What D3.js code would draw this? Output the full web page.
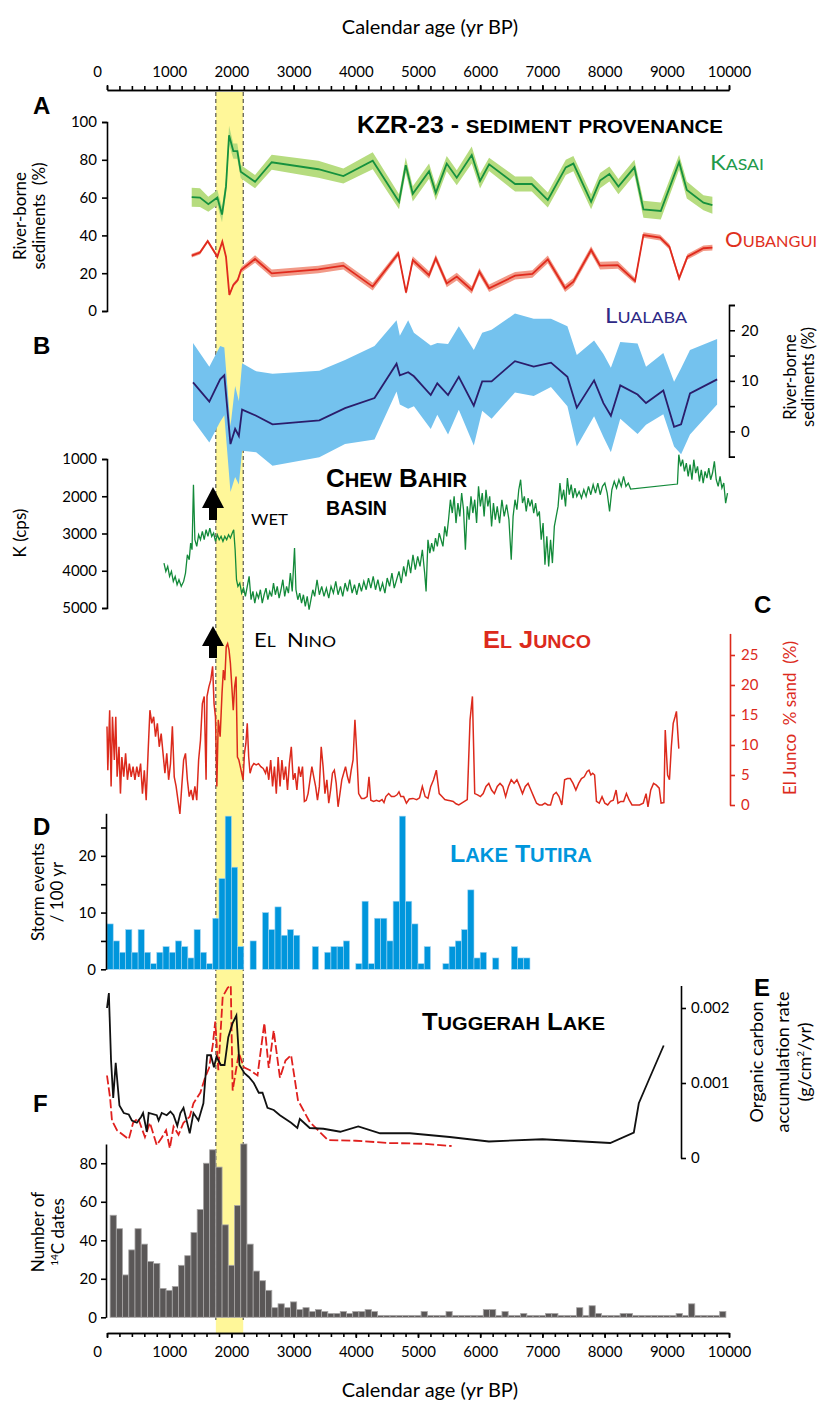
<!DOCTYPE html>
<html>
<head>
<meta charset="utf-8">
<script src="https://cdn.jsdelivr.net/npm/d3@7"></script>
<style>
  body { margin: 0; background: #fff; }
  svg text { font-family: Lato, "Open Sans", sans-serif; }
  .bold { font-family: "Liberation Sans", Arial, sans-serif; font-weight: bold; }
  .pre { white-space: pre; }
</style>
</head>
<body>
<div id="chart"></div>
<script>
// ---- data (ages in cal yr BP) ----
const eventBand = [1750, 2190];

// KZR-23: [age, %, half-width of uncertainty]
const kasai = [[1362,60.2,5],[1495,60,5],[1629,56.5,4],[1774,60,4],[1849,51,4],[1913,65.8,4],[1962,93,5],[2031,84.6,4],[2095,84.6,4],[2150,73.7,3.5],[2380,68.4,3.5],[2648,78.7,4],[3398,75,4.5],[3800,71.4,4],[4272,79.5,4.5],[4695,57.8,4],[4803,77.2,4],[4916,62,4],[5178,74,4],[5286,62.5,4],[5462,78,4],[5623,70.5,4],[5864,82.5,4.5],[5998,68.8,4],[6143,77.6,3.5],[6561,67.2,4],[6829,67.2,4],[7087,58.7,4],[7376,76,4],[7498,78,4],[7783,57.8,4],[7927,69,4],[8077,72.5,4],[8222,65.8,4],[8479,76,4],[8624,53.8,4.5],[8903,52.9,4.5],[9198,78.7,4],[9322,64,4.5],[9589,57.3,4],[9733,56,4.5]];

const oubangui = [[1362,29.3,1],[1495,30.9,1],[1619,37,1],[1774,28.7,1],[1854,36.7,0.5],[1913,28.7,0.5],[1967,8.5,0.5],[2031,13.8,1],[2102,16.4,1],[2155,21.7,1.5],[2380,27.5,2],[2648,19.9,2],[3398,22,2],[3800,24,2],[4272,12.9,2],[4684,30.5,1.5],[4808,9.7,1],[4916,27,2],[5178,19,2],[5286,27.9,2],[5462,14.6,2],[5623,18.2,2],[5864,11.1,2],[5987,20.8,2],[6143,12,2],[6561,18.7,2],[6839,19.6,2],[7087,27.3,2],[7365,12,2],[7498,15.5,2],[7783,32.3,2],[7927,24,2],[8212,24.3,2],[8490,15.9,1.5],[8624,40.2,1.5],[8892,38.8,1.5],[9042,34,1.5],[9198,17.3,1.5],[9332,28.7,1.5],[9589,33.2,1.5],[9733,33.5,1.5]];

// Lualaba: [age, mean, low, high]
const lualaba = [[1383,9.7,2.2,17.5],[1645,5.9,-2.2,12.8],[1819,10.3,1.9,16.9],[1886,11.1,3.2,16.6],[1985,-2.5,-12,1],[2060,0.5,-9,9],[2120,-0.9,-10.5,6],[2172,4.3,-3.8,13.5],[2398,3.1,-4.1,11.9],[2661,1.4,-6.8,11.4],[3414,2.2,-5.1,12],[3827,4.6,-2.5,14.1],[4301,6.6,-1.6,16.9],[4655,13.4,7.9,22],[4708,11.1,5.3,18.9],[4842,11.7,4.5,22],[4934,10.9,5,19.5],[5205,7.2,0.5,17],[5310,9.5,3.3,17.5],[5483,7.2,-0.6,17.3],[5656,10.8,4.3,20.8],[5897,5.1,-2.8,16.1],[6032,9.9,4.1,19.5],[6183,9.9,2.5,20.1],[6559,13.9,7.7,23.3],[6860,12.8,7,22.3],[7138,13.6,8.8,22.3],[7402,10.8,5,20.8],[7553,4.7,-3,15.1],[7831,10.1,3,18],[7981,5.6,-1.1,15.3],[8101,3.1,-4.1,12.6],[8252,9.1,2.5,17.7],[8530,7.3,-0.5,17.4],[8666,5.6,1.3,12.8],[8944,8.1,3.4,15.5],[9117,0.9,-3,9.8],[9230,1.4,-4.5,12.5],[9373,7.5,-0.6,16.1],[9809,10.3,5.3,18.3]];

// Chew Bahir: [age, K cps]
const chewBahir = [[916,3794],[946,4017],[976,3883],[1006,4152],[1036,4017],[1066,4286],[1096,4152],[1127,4375],[1157,4241],[1194,4420],[1232,4286],[1262,4062],[1292,3570],[1322,3704],[1345,3257],[1367,3436],[1390,1690],[1413,3167],[1443,3346],[1473,3033],[1503,3167],[1533,2943],[1563,3167],[1593,2898],[1623,3078],[1653,2854],[1683,3078],[1714,2988],[1744,3212],[1774,3033],[1804,3167],[1834,3078],[1864,3212],[1894,3078],[1924,3167],[1954,3033],[1984,3122],[2014,2988],[2037,2898],[2060,3436],[2082,4241],[2105,4420],[2135,4330],[2165,4599],[2195,4465],[2225,4689],[2255,4420],[2285,4152],[2316,4778],[2346,4554],[2376,4867],[2406,4599],[2436,4733],[2466,4510],[2496,4867],[2526,4644],[2556,4465],[2586,4778],[2616,4554],[2647,4689],[2677,4330],[2707,4644],[2737,4420],[2767,4733],[2797,4510],[2827,4241],[2857,4689],[2887,4420],[2917,4599],[2948,4062],[2978,4554],[3015,3391],[3038,4510],[3068,4778],[3098,4599],[3128,4867],[3158,4644],[3188,4957],[3219,4689],[3249,5047],[3279,4778],[3309,4510],[3339,4689],[3377,4241],[3414,4644],[3452,4420],[3489,4689],[3527,4465],[3565,4733],[3602,4420],[3640,4599],[3678,4286],[3715,4644],[3753,4420],[3790,4689],[3828,4330],[3866,4554],[3903,4241],[3941,4599],[3979,4375],[4016,4644],[4054,4330],[4091,4554],[4129,4286],[4167,4510],[4204,4196],[4242,4465],[4280,4152],[4317,4510],[4355,4241],[4392,4554],[4430,4330],[4468,4599],[4505,4196],[4543,4420],[4581,4062],[4618,4465],[4656,4241],[4694,4017],[4731,4330],[4769,3883],[4806,4152],[4844,3704],[4882,4062],[4919,3570],[4957,3972],[4995,3615],[5032,3883],[5070,3436],[5107,4062],[5130,4554],[5160,3167],[5190,3525],[5220,3257],[5250,3480],[5281,3122],[5311,3346],[5341,2988],[5371,3167],[5401,3346],[5431,2809],[5461,3078],[5491,2630],[5521,2093],[5551,2451],[5581,2004],[5611,2720],[5642,2183],[5672,2540],[5702,1914],[5732,2362],[5762,3436],[5792,2272],[5822,2630],[5852,2004],[5882,2451],[5912,2093],[5942,2720],[5973,1735],[6003,2272],[6033,1914],[6063,2540],[6093,1825],[6123,2272],[6153,2004],[6183,2809],[6213,2183],[6243,2630],[6274,2272],[6311,2720],[6349,2093],[6386,2540],[6424,2227],[6462,2630],[6499,3704],[6529,2540],[6560,2093],[6590,2362],[6620,1825],[6650,1556],[6680,2183],[6710,2004],[6740,2406],[6770,2048],[6800,2272],[6830,2093],[6860,2451],[6891,2183],[6921,2540],[6951,2406],[6981,3167],[7011,2720],[7041,3838],[7071,3078],[7101,3883],[7131,3167],[7161,3794],[7192,2809],[7222,2540],[7252,2272],[7282,1646],[7312,2093],[7342,1825],[7372,2272],[7402,1511],[7432,1959],[7463,1690],[7493,2048],[7523,1780],[7553,2004],[7590,1869],[7628,2048],[7666,1825],[7703,2004],[7741,1735],[7778,1959],[7816,1690],[7854,1914],[7891,1646],[7929,1959],[7966,1735],[8004,1646],[8042,1914],[8080,2406],[8117,1825],[8155,1601],[8192,1780],[8230,1556],[8268,1735],[8305,1467],[8343,1735],[8381,1646],[8418,1807],[9171,1672],[9193,885],[9224,1198],[9254,1019],[9284,1332],[9314,1109],[9344,1467],[9374,1153],[9404,1556],[9434,1019],[9464,1377],[9494,1198],[9525,1601],[9555,1288],[9585,1646],[9615,1332],[9645,1511],[9675,1243],[9705,1556],[9735,1377],[9765,1064],[9795,1556],[9826,1735],[9856,1467],[9886,1780],[9916,1646],[9946,2183],[9976,1914]];

// El Junco: [age, % sand]
const elJunco = [[0,13.1],[13,5.8],[43,15.8],[66,3.1],[88,14.7],[118,7.5],[141,14.7],[163,4.7],[193,9.7],[216,1.9],[239,8],[269,4.7],[299,8.6],[329,4.2],[359,6.9],[389,4.7],[419,6.4],[449,4.2],[479,6.4],[509,4.7],[540,6.9],[570,1.9],[600,5.8],[630,0.8],[660,8.6],[690,15.8],[720,13.6],[750,14.7],[780,11.4],[810,13.6],[840,9.7],[871,11.9],[901,8.6],[931,5.3],[961,8.6],[991,4.2],[1021,6.9],[1051,13.1],[1081,4.7],[1111,3.1],[1141,0.8],[1172,-1.5],[1202,3.1],[1232,7.5],[1262,8.6],[1292,4.2],[1322,1.4],[1352,2.5],[1382,0.8],[1413,3.1],[1443,0.8],[1473,7.5],[1503,10.8],[1533,16.9],[1563,18.1],[1593,4.2],[1608,18.1],[1638,19.7],[1668,20.8],[1698,23.1],[1721,16.9],[1744,14.7],[1766,3.1],[1789,14.2],[1819,11.4],[1849,18.6],[1871,22.5],[1894,20.8],[1917,26.4],[1939,26.9],[1962,25.8],[1984,23.6],[2007,19.7],[2030,15.8],[2052,19.7],[2075,21.4],[2097,8],[2120,7.5],[2143,6.4],[2165,5.3],[2188,4.2],[2210,8.6],[2233,10.3],[2255,13.6],[2278,8],[2300,5.3],[2330,6.4],[2361,6.9],[2398,6.7],[2436,6.9],[2473,6.4],[2511,6.1],[2549,5.3],[2571,6.4],[2601,4.2],[2632,7.5],[2662,3.1],[2692,6.4],[2722,1.9],[2752,8],[2782,3.1],[2812,7.5],[2842,4.2],[2872,6.4],[2902,2.5],[2932,6.9],[2963,9.7],[2993,4.2],[3023,5.3],[3053,2.5],[3083,6.4],[3113,4.7],[3143,6.4],[3173,0.6],[3203,0.8],[3233,1.9],[3264,4.2],[3294,6.4],[3324,4.7],[3354,3.1],[3384,0.8],[3414,3.1],[3444,9.7],[3474,6.4],[3504,1.9],[3535,4.2],[3565,0.3],[3595,2.5],[3625,5.3],[3655,5.8],[3685,3.6],[3715,-0.3],[3745,1.9],[3775,4.2],[3805,5.3],[3835,6.4],[3866,4.7],[3896,3.6],[3926,5.8],[3956,7.5],[3986,14.2],[4016,8.6],[4046,1.9],[4091,1.1],[4137,1.1],[4182,1.4],[4212,4.7],[4242,0.8],[4287,0.6],[4332,0.8],[4377,0.6],[4422,0.9],[4453,0.4],[4483,1.4],[4528,1.9],[4573,1.4],[4618,1.4],[4663,1.7],[4694,2.2],[4724,1.4],[4769,1.4],[4814,0.3],[4859,1.0],[4919,1.1],[4979,0.9],[5025,1.2],[5070,3.1],[5115,1.4],[5160,1.1],[5205,3.1],[5250,4.2],[5295,5.8],[5341,1.9],[5386,1.4],[5431,0.9],[5476,0.8],[5521,0.7],[5566,0.6],[5611,0.2],[5656,0],[5702,0.3],[5747,0.6],[5792,0.9],[5837,14.2],[5875,18.1],[5912,1.9],[5958,1.7],[6003,1.4],[6048,1.9],[6093,3.1],[6138,3.6],[6183,2.5],[6228,1.9],[6274,3.1],[6319,3.6],[6364,3.1],[6409,1.4],[6454,3.1],[6499,4.2],[6545,3.6],[6590,4.2],[6635,3.1],[6680,1.9],[6725,3.1],[6770,3.6],[6815,2.5],[6860,1.4],[6906,0.3],[6951,0],[6996,0],[7041,0.3],[7086,0],[7131,0],[7177,1.7],[7222,2.1],[7267,1.4],[7312,0],[7357,4.2],[7402,4.4],[7448,4.4],[7493,3.6],[7538,2.5],[7583,3.6],[7628,4.4],[7673,4.7],[7719,5.6],[7749,5.8],[7779,5],[7809,5.3],[7839,5],[7869,0.6],[7914,0.3],[7959,1.4],[8004,0.3],[8050,0],[8095,0.6],[8140,0.8],[8185,2.5],[8215,0.3],[8260,0.6],[8306,0.6],[8351,1.9],[8396,0.8],[8441,0],[8501,0],[8561,0],[8621,0.3],[8667,1.9],[8697,-0.3],[8742,2.5],[8787,3.6],[8832,3.3],[8878,2.8],[8908,0.3],[8953,0.4],[8975,12.5],[9013,5],[9043,4.2],[9073,9.7],[9103,13.6],[9133,14.7],[9155,15.6],[9193,9.4]];

// Lake Tutira storm events per 100-yr bin, bins starting at 0 BP
const tutiraCounts = [8,5,3,7,3,7,3,1,3,4, 3,5,4,2,7,3,1,9,16,27, 18,4,0,5,0,10,7,11,6,7, 6,0,0,4,0,3,4,4,5,0, 1,12,1,9,9,5,12,27,12,8, 1,4,0,0,1,4,5,7,14,2, 3,0,2,0,0,4,2,2];

// Tuggerah Lake organic carbon accumulation (g/cm2/yr)
const tuggerahSolid = [[0,0.0020],[30,0.0022],[65,0.0013],[100,0.0008],[140,0.00127],[200,0.0007],[270,0.0006],[350,0.00058],[400,0.0005],[480,0.00047],[550,0.00055],[580,0.0006],[640,0.00035],[670,0.0006],[800,0.00057],[830,0.0005],[880,0.0006],[960,0.00057],[1020,0.00062],[1070,0.00057],[1130,0.00043],[1180,0.0006],[1230,0.00067],[1330,0.00033],[1390,0.0006],[1470,0.0005],[1550,0.00073],[1610,0.00137],[1670,0.00137],[1720,0.00121],[1760,0.00135],[1830,0.00124],[1890,0.00124],[1950,0.00161],[2020,0.0018],[2080,0.0019],[2130,0.00124],[2210,0.00113],[2280,0.00108],[2360,0.001],[2440,0.00087],[2500,0.00087],[2580,0.00067],[2680,0.00064],[2780,0.00057],[2960,0.00047],[3060,0.0004],[3100,0.00052],[3260,0.0004],[3480,0.00039],[3750,0.00035],[4040,0.00042],[4390,0.00033],[4870,0.00033],[5510,0.00028],[6140,0.00022],[7000,0.00025],[8090,0.0002],[8470,0.00034],[8550,0.00073],[8710,0.00104],[8950,0.0015]];
const tuggerahDashed = [[0,0.0011],[50,0.0008],[80,0.0005],[160,0.00037],[350,0.00025],[420,0.00047],[500,0.00053],[610,0.00028],[690,0.00047],[800,0.00017],[880,0.00027],[950,0.00037],[1010,0.00013],[1070,0.00042],[1150,0.00031],[1230,0.00047],[1330,0.00055],[1390,0.00073],[1500,0.00087],[1580,0.00108],[1640,0.0012],[1700,0.0015],[1740,0.00182],[1790,0.00117],[1860,0.00215],[1940,0.00227],[1990,0.0023],[2020,0.0009],[2120,0.0014],[2200,0.00121],[2300,0.00117],[2420,0.0011],[2530,0.0018],[2600,0.0012],[2680,0.0017],[2780,0.00107],[2870,0.0013],[2960,0.00137],[3070,0.00077],[3260,0.00048],[3550,0.00024],[4000,0.00023],[4540,0.0002],[5080,0.00019],[5540,0.00016]];

// number of 14C dates per 100-yr bin, bins centred on 100, 200, ... 9900 BP
const datesCounts = [53,46,22,35,46,38,29,28,15,14, 16,27,32,44,56,80,87,78,48,27, 58,90,38,24,19,14,5,7,5,8, 4,5,3,4,3,2,2,3,2,3, 3,4,3,1,1,1,1,1,1,1, 3,1,1,1,3,1,1,1,1,1, 4,4,1,3,1,1,2,1,1,1, 2,2,1,1,1,5,1,6,2,1, 1,1,2,2,1,1,1,1,1,1, 1,2,1,7,1,1,1,1,3];

const ageTicks = d3.range(0, 10001, 1000);

// ---- layout ----
const W = 820, H = 1402;
const svg = d3.select('#chart').append('svg').attr('width', W).attr('height', H);

const x = d3.scaleLinear().domain([0, 10000]).range([107, 729]);
const yA = d3.scaleLinear().domain([0, 100]).range([311, 122]);
const yL = d3.scaleLinear().domain([-5, 25]).range([456.7, 305]);
const yB = d3.scaleLinear().domain([1000, 5000]).range([459, 608]);
const yC = d3.scaleLinear().domain([0, 28.6]).range([805, 633.4]);
const yD = d3.scaleLinear().domain([0, 27.5]).range([969.3, 813.3]);
const yE = d3.scaleLinear().domain([0, 0.0023]).range([1158, 985.5]);
const yF = d3.scaleLinear().domain([0, 90]).range([1317.3, 1144]);

// event band
svg.append('rect')
    .attr('x', x(eventBand[0])).attr('width', x(eventBand[1]) - x(eventBand[0]))
    .attr('y', 92).attr('height', 1333 - 92)
    .attr('fill', '#fff799');
eventBand.forEach(function(a) {
    svg.append('line')
        .attr('x1', x(a)).attr('x2', x(a)).attr('y1', 92).attr('y2', 1320)
        .attr('stroke', '#333').attr('stroke-width', 1).attr('stroke-dasharray', '4,3');
});

// Lualaba
svg.append('path').datum(lualaba)
    .attr('d', d3.area().x(d => x(d[0])).y0(d => yL(d[2])).y1(d => yL(d[3])))
    .attr('fill', '#74c2ee');

// Kasai & Oubangui
function bandLine(data, fillCol, lineCol) {
    svg.append('path').datum(data)
        .attr('d', d3.area().x(d => x(d[0])).y0(d => yA(d[1] - d[2])).y1(d => yA(d[1] + d[2])))
        .attr('fill', fillCol);
    svg.append('path').datum(data)
        .attr('d', d3.line().x(d => x(d[0])).y(d => yA(d[1])))
        .attr('fill', 'none').attr('stroke', lineCol).attr('stroke-width', 1.8);
}
bandLine(kasai, '#b6dc7f', '#16913e');
bandLine(oubangui, '#f29a88', '#e02a1d');

svg.append('path').datum(lualaba)
    .attr('d', d3.line().x(d => x(d[0])).y(d => yL(d[1])))
    .attr('fill', 'none').attr('stroke', '#2b1d6b').attr('stroke-width', 1.8);

// Chew Bahir
svg.append('path').datum(chewBahir)
    .attr('d', d3.line().x(d => x(d[0])).y(d => yB(d[1])))
    .attr('fill', 'none').attr('stroke', '#138a3a').attr('stroke-width', 1.3);

// El Junco
svg.append('path').datum(elJunco)
    .attr('d', d3.line().x(d => x(d[0])).y(d => yC(d[1])))
    .attr('fill', 'none').attr('stroke', '#dc2a1c').attr('stroke-width', 1.5);

// Lake Tutira
svg.append('g').selectAll('rect')
    .data(tutiraCounts.map((v, i) => ({ a0: i * 100, a1: i * 100 + 100, v: v })).filter(d => d.v > 0))
    .enter().append('rect')
    .attr('x', d => x(d.a0)).attr('width', d => x(d.a1) - x(d.a0))
    .attr('y', d => yD(d.v)).attr('height', d => yD(0) - yD(d.v))
    .attr('fill', '#0096dc').attr('stroke', '#9fd4f2').attr('stroke-width', 0.6);

// Tuggerah Lake
svg.append('path').datum(tuggerahDashed)
    .attr('d', d3.line().x(d => x(d[0])).y(d => yE(d[1])))
    .attr('fill', 'none').attr('stroke', '#e0201e').attr('stroke-width', 1.8).attr('stroke-dasharray', '9,3');
svg.append('path').datum(tuggerahSolid)
    .attr('d', d3.line().x(d => x(d[0])).y(d => yE(d[1])))
    .attr('fill', 'none').attr('stroke', '#111').attr('stroke-width', 1.8);

// 14C dates
svg.append('g').selectAll('rect')
    .data(datesCounts.map((v, i) => ({ a0: 50 + i * 100, a1: 150 + i * 100, v: v })))
    .enter().append('rect')
    .attr('x', d => x(d.a0)).attr('width', d => x(d.a1) - x(d.a0))
    .attr('y', d => yF(d.v)).attr('height', d => yF(0) - yF(d.v))
    .attr('fill', '#5a5757').attr('stroke', '#a8a6a6').attr('stroke-width', 0.8);

// ---- axes ----
const plain = d3.format('d');

function styleAxis(g, color) {
    g.attr('font-family', 'Lato, sans-serif').attr('font-size', 15);
    g.selectAll('.domain, .tick line').attr('stroke', color).attr('stroke-width', 1.6);
    g.selectAll('.tick text').attr('fill', color);
    return g;
}

function ageAxis(y, axisFn) {
    const minor = svg.append('g').attr('transform', `translate(0,${y})`)
        .call(axisFn(x).tickValues(d3.range(0, 10001, 200)).tickSize(4).tickSizeOuter(0).tickFormat(''));
    styleAxis(minor, '#000');
    const major = svg.append('g').attr('transform', `translate(0,${y})`)
        .call(axisFn(x).tickValues(ageTicks).tickSize(5).tickSizeOuter(0).tickPadding(8).tickFormat(plain));
    styleAxis(major, '#000');
    major.selectAll('.tick text').filter(d => d === 0).attr('dx', -10);
}
ageAxis(90, d3.axisTop);
ageAxis(1333, d3.axisBottom);

styleAxis(svg.append('g').attr('transform', 'translate(107,0)')
    .call(d3.axisLeft(yA).tickValues(d3.range(0, 101, 20)).tickSize(5).tickSizeOuter(5).tickPadding(5)), '#000');

styleAxis(svg.append('g').attr('transform', 'translate(729,0)')
    .call(d3.axisRight(yL).tickValues(d3.range(-5, 26, 5)).tickSize(6).tickSizeOuter(6).tickPadding(6)
        .tickFormat(d => d % 10 === 0 ? d : '')), '#000');

styleAxis(svg.append('g').attr('transform', 'translate(107,0)')
    .call(d3.axisLeft(yB).tickValues(d3.range(1000, 5001, 1000)).tickSize(5).tickSizeOuter(5).tickPadding(5)
        .tickFormat(plain)), '#000');

styleAxis(svg.append('g').attr('transform', 'translate(730,0)')
    .call(d3.axisRight(yC).tickValues(d3.range(0, 26, 5)).tickSize(5).tickSizeOuter(0).tickPadding(6)), '#dc2a1c');

styleAxis(svg.append('g').attr('transform', 'translate(106,0)')
    .call(d3.axisLeft(yD).tickValues(d3.range(0, 26, 5)).tickSize(5).tickSizeOuter(0).tickPadding(5)
        .tickFormat(d => d % 10 === 0 ? d : '')), '#000');

styleAxis(svg.append('g').attr('transform', 'translate(681,0)')
    .call(d3.axisRight(yE).tickValues([0, 0.001, 0.002]).tickSize(5).tickSizeOuter(0).tickPadding(5)
        .tickFormat(d => d === 0 ? '0' : d3.format('.3f')(d))), '#000');

styleAxis(svg.append('g').attr('transform', 'translate(106,0)')
    .call(d3.axisLeft(yF).tickValues(d3.range(0, 81, 20)).tickSize(5).tickSizeOuter(0).tickPadding(4)), '#000');

// ---- text ----
function smallCaps(t, str, big, small) {
    const runs = [];
    for (const ch of str) {
        const s = ch !== ch.toUpperCase() ? small : big;
        const c = ch.toUpperCase();
        if (runs.length && runs[runs.length - 1].s === s) runs[runs.length - 1].c += c;
        else runs.push({ s: s, c: c });
    }
    runs.forEach(r => t.append('tspan').attr('font-size', r.s).text(r.c));
    return t;
}
function label(xp, yp, str, big, small, color, bold, len) {
    const t = svg.append('text').attr('x', xp).attr('y', yp).attr('fill', color).attr('class', 'pre' + (bold ? ' bold' : ''));
    if (len) t.attr('textLength', len).attr('lengthAdjust', 'spacingAndGlyphs');
    return smallCaps(t, str, big, small);
}
function vLabel(xp, yp, str, color, size) {
    return svg.append('text').attr('transform', `translate(${xp},${yp}) rotate(-90)`)
        .attr('text-anchor', 'middle').attr('font-size', size || 17).attr('fill', color || '#000').text(str);
}

svg.append('text').attr('x', 430).attr('y', 34).attr('text-anchor', 'middle').attr('font-size', 20).text('Calendar age (yr BP)');
svg.append('text').attr('x', 430).attr('y', 1397).attr('text-anchor', 'middle').attr('font-size', 20).text('Calendar age (yr BP)');

[['A', 114], ['B', 354], ['D', 835], ['F', 1112]].forEach(function(p) {
    svg.append('text').attr('class', 'bold').attr('x', 33).attr('y', p[1]).attr('font-size', 24).text(p[0]);
});
svg.append('text').attr('class', 'bold').attr('x', 754).attr('y', 613).attr('font-size', 24).text('C');
svg.append('text').attr('class', 'bold').attr('x', 754).attr('y', 996).attr('font-size', 24).text('E');

label(357, 133, 'KZR-23 - sediment provenance', 23, 19, '#000', true, 366);
label(710, 170, 'Kasai', 21, 15.5, '#1f9a4b', false, 54);
label(725, 247, 'Oubangui', 21, 15.5, '#e0301e', false, 92);
label(605, 323, 'Lualaba', 21, 15.5, '#2e2a86', false, 82);
label(326, 487, 'Chew Bahir', 25, 19.5, '#000', true, 141);
label(326, 515, 'basin', 25, 19.5, '#000', true, 61);
label(251, 525, 'wet', 19, 15, '#000', false, 37);
label(254, 647, 'El  Nino', 20, 16, '#000', false, 82);
label(483, 648, 'El Junco', 24, 18.5, '#dc2a1c', true, 108);
label(450, 862, 'Lake Tutira', 24, 19.5, '#0096dc', true, 142);
label(422, 1030, 'Tuggerah Lake', 23, 18, '#000', true, 183);

// arrows
function arrow(cx, yTop, yBase, yBottom) {
    svg.append('path')
        .attr('d', `M${cx},${yTop} L${cx + 11},${yBase} L${cx + 4},${yBase} L${cx + 4},${yBottom} L${cx - 4},${yBottom} L${cx - 4},${yBase} L${cx - 11},${yBase} Z`)
        .attr('fill', '#000');
}
arrow(213, 487, 508, 520);
arrow(213, 626, 646, 658);

// axis titles
vLabel(26, 216, 'River-borne');
vLabel(45, 216, 'sediments  (%)').attr('class', 'pre');
vLabel(26, 533, 'K (cps)');
vLabel(44, 892, 'Storm events');
vLabel(63, 892, '/ 100 yr');
vLabel(44, 1232, 'Number of');
const dt = svg.append('text').attr('transform', 'translate(64,1232) rotate(-90)').attr('text-anchor', 'middle').attr('font-size', 17);
dt.append('tspan').attr('font-size', 10).attr('dy', -6).text('14');
dt.append('tspan').attr('dy', 6).text('C dates');

vLabel(796, 377, 'River-borne', '#000', 16.5);
vLabel(814, 377, 'sediments (%)', '#000', 16.5);
vLabel(796, 718, 'El Junco  % sand  (%)', '#dc2a1c').attr('class', 'pre');
vLabel(763, 1062, 'Organic carbon', '#000', 18);
vLabel(789, 1062, 'accumulation rate', '#000', 18);
const gu = svg.append('text').attr('transform', 'translate(811,1062) rotate(-90)').attr('text-anchor', 'middle').attr('font-size', 18);
gu.append('tspan').text('(g/cm');
gu.append('tspan').attr('font-size', 10).attr('dy', -7).text('2');
gu.append('tspan').attr('dy', 7).text('/yr)');
</script>
</body>
</html>
